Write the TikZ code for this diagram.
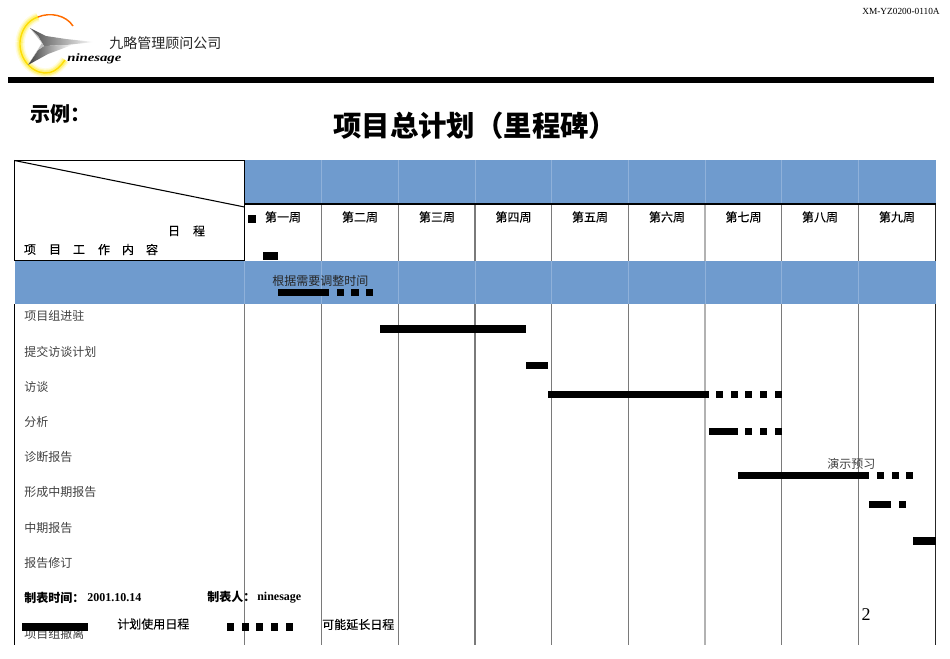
\documentclass[tikz,border=0pt]{standalone}
\usepackage{fontspec}
\setmainfont{Liberation Serif}
\newfontfamily\cjk{Noto Sans CJK SC}
\newfontfamily\cjkfb[FakeBold=0.25]{Noto Sans CJK SC}
\definecolor{band}{HTML}{6F9BCE}
\definecolor{bandline}{HTML}{8FB1DA}
\definecolor{gridgray}{HTML}{7A7A7A}
\newcommand{\gbar}[3]{\fill (#1,#3) rectangle (#2,#3+7.6);}
\tikzset{
  lbl/.style={inner sep=0pt,font=\cjk\fontsize{9}{9}\selectfont},
  rowlbl/.style={lbl,anchor=west,text=black!75},
  week/.style={lbl,font=\cjkfb\fontsize{9}{9}\selectfont},
  legend/.style={lbl,anchor=west,font=\cjk\bfseries\fontsize{9}{9}\selectfont},
  legendtxt/.style={lbl,anchor=west},
}
\begin{document}
\begin{tikzpicture}[x=0.75pt,y=-0.75pt]
\useasboundingbox (0,0) rectangle (950,658);
% header
\node[inner sep=0pt,anchor=east,font=\fontsize{7}{7}\selectfont] (code) at (940,11) {XM-YZ0200-0110A};
% logo
\foreach \w/\o in {7/.12,5/.2,3.5/.3}{
  \draw[yellow!90!orange,line width=\w pt,opacity=\o] (20,42) .. controls (19,62) and (36,76) .. (50,72.5) .. controls (56,71) and (61,66) .. (65,60);
  \draw[yellow!90!orange,line width=\w pt,opacity=\o] (20,42) .. controls (21,30) and (28,20) .. (38,17);
}
\draw[yellow!80!orange,line width=1.1pt] (20,42) .. controls (19,62) and (36,76) .. (50,72.5) .. controls (56,71) and (61,66) .. (65,60);
\draw[yellow!80!orange,line width=1.1pt] (20,42) .. controls (21,30) and (28,20) .. (38,17);
\draw[orange!85!red,line width=1.1pt] (38,17) .. controls (50,12) and (66,15) .. (73,26);
\shade[left color=black!70,right color=white] (30,28) -- (46,36) -- (66,39) -- (94,42) -- (66,45) -- (44,46) -- (38,36) -- cycle;
\shade[left color=black!75,right color=white] (28,65) -- (38,50) -- (44,46) -- (62,45) -- (72,45) -- (48,54) -- cycle;
\fill[black!25] (30,28) -- (38,36) -- (44,46) -- (38,50) -- (28,65) -- (42,43) -- cycle;
\node[inner sep=0pt,anchor=west,xscale=1.3,font=\bfseries\itshape\fontsize{8.5}{8.5}\selectfont] (brand) at (67,58.5) {ninesage};
\node[lbl,anchor=west,font=\cjk\fontsize{10.5}{10.5}\selectfont,text=black!85] (company) at (109,43) {九略管理顾问公司};
\fill (8,77) rectangle (934,82.5);
\node[lbl,anchor=west,font=\cjk\bfseries\fontsize{15}{15}\selectfont] (eg) at (30,114) {示例：};
\node[lbl,anchor=west,font=\cjk\bfseries\fontsize{21.3}{21.3}\selectfont] (title) at (333,126) {项目总计划（里程碑）};
% bands
\fill[band] (244.5,160) rectangle (935.5,204);
\fill[band] (14.5,260.5) rectangle (935.5,304);
% grid
\foreach \x/\c in {321.5/gridgray,398.5/gridgray,475/gridgray,551.5/gridgray,628.5/gridgray,705/black!30,781.5/gridgray,858.5/gridgray}{
  \draw[bandline,line width=.6pt] (\x,160) -- (\x,204);
  \draw[bandline,line width=.6pt] (\x,261) -- (\x,304);
  \draw[\c,line width=.8pt] (\x,204) -- (\x,260.5);
  \draw[\c,line width=.8pt] (\x,304) -- (\x,645);
}
\draw[bandline,line width=.6pt] (244.5,261) -- (244.5,304);
\draw[gridgray,line width=.8pt] (244.5,304) -- (244.5,645);
\draw[black!85,line width=1pt] (935.5,204) -- (935.5,260.5) (935.5,304) -- (935.5,645);
\draw[black,line width=1pt] (14.5,304) -- (14.5,645);
\draw[black,line width=1pt] (14.5,160.5) rectangle (244.5,260.5);
\draw[black,line width=.8pt] (14.5,160.5) -- (244.5,207);
\draw[black,line width=.8pt] (244.5,204) -- (935.5,204);
% header labels
\node[week] (d1) at (174,231) {日};
\node[week] (d2) at (199,231) {程};
\foreach \x/\t/\n in {30/项/h1,55/目/h2,79/工/h3,104/作/h4,128/内/h5,152/容/h6}
  \node[week] (\n) at (\x,249.5) {\t};
\node[week] (w1) at (283,217) {第一周};
\node[week] (w2) at (360,217) {第二周};
\node[week] (w3) at (437,217) {第三周};
\node[week] (w4) at (513.5,217) {第四周};
\node[week] (w5) at (590,217) {第五周};
\node[week] (w6) at (667,217) {第六周};
\node[week] (w7) at (743.5,217) {第七周};
\node[week] (w8) at (820,217) {第八周};
\node[week] (w9) at (897,217) {第九周};
% row labels
\node[rowlbl] (r1) at (24,316) {项目组进驻};
\node[rowlbl] (r2) at (24,352) {提交访谈计划};
\node[rowlbl] (r3) at (24,387) {访谈};
\node[rowlbl] (r4) at (24,422) {分析};
\node[rowlbl] (r5) at (24,457) {诊断报告};
\node[rowlbl] (r6) at (24,492) {形成中期报告};
\node[rowlbl] (r7) at (24,528) {中期报告};
\node[rowlbl] (r8) at (24,563) {报告修订};
\node[rowlbl] (r9) at (24,634) {项目组撤离};
% bars
\fill (248,215) rectangle (256,222.5);
\gbar{263}{278}{252}
\node[lbl,anchor=west,text=black!85] (n1) at (272,281) {根据需要调整时间};
\gbar{278}{329}{288.5}
\gbar{337}{344}{288.5}
\gbar{351}{359}{288.5}
\gbar{366}{373}{288.5}
\gbar{380}{526}{325}
\gbar{526}{548}{361.5}
\gbar{548}{709}{390.5}
\foreach \x in {716,731,745,760,775}{\gbar{\x}{\x+7.3}{390.5}}
\gbar{709}{738}{427.5}
\foreach \x in {745,760,775}{\gbar{\x}{\x+7.3}{427.5}}
\node[lbl,anchor=west,text=black!75] (n2) at (827,464) {演示预习};
\gbar{738}{869}{471.5}
\foreach \x in {877,891.5,906}{\gbar{\x}{\x+7.3}{471.5}}
\gbar{869}{891}{500.5}
\gbar{899}{906}{500.5}
\gbar{913}{935.5}{537}
% footer
\node[legend] (f1) at (24,597.5) {制表时间：};
\node[inner sep=0pt,anchor=west,font=\bfseries\fontsize{9}{9}\selectfont] (f2) at (87,597.5) {2001.10.14};
\node[legend] (f3) at (207,597) {制表人：};
\node[inner sep=0pt,anchor=west,font=\bfseries\fontsize{9}{9}\selectfont] (f4) at (257,597.5) {ninesage};
\fill (22,623) rectangle (88,631);
\node[legendtxt,font=\cjkfb\fontsize{9}{9}\selectfont] (f5) at (117,624) {计划使用日程};
\foreach \x in {227,241.5,256,271,285.5}{\gbar{\x}{\x+7.3}{623}}
\node[legendtxt,font=\cjkfb\fontsize{9}{9}\selectfont] (f6) at (322,624.5) {可能延长日程};
\node[inner sep=0pt,font=\fontsize{13.5}{13.5}\selectfont] (pg) at (866,615) {2};
\end{tikzpicture}
\end{document}
